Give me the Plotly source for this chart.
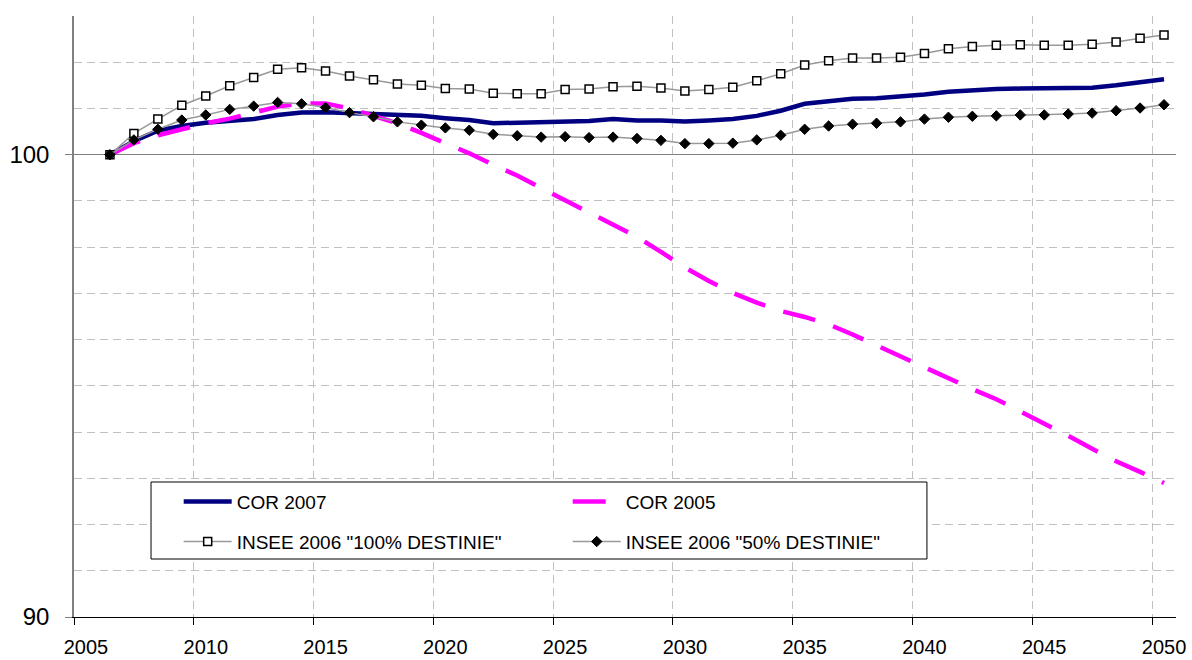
import plotly.graph_objects as go

years = list(range(2006, 2051))

cor_2007 = [100.00, 100.29, 100.52, 100.62, 100.69, 100.74, 100.77, 100.86, 100.91, 100.92,
            100.90, 100.88, 100.86, 100.84, 100.79, 100.75, 100.68, 100.69, 100.70, 100.73,
            100.73, 100.77, 100.74, 100.74, 100.72, 100.74, 100.77, 100.84, 100.95, 101.10,
            101.16, 101.21, 101.22, 101.25, 101.30, 101.36, 101.40, 101.42, 101.43, 101.43,
            101.43, 101.45, 101.50, 101.56, 101.63]

cor_2005 = [100.00, 100.25, 100.42, 100.55, 100.68, 100.78, 100.92, 101.04, 101.11, 101.11,
            101.00, 100.84, 100.68, 100.47, 100.25, 100.03, 99.78, 99.55, 99.28, 99.02,
            98.76, 98.50, 98.22, 97.90, 97.56, 97.27, 97.01, 96.80, 96.62, 96.49,
            96.33, 96.11, 95.87, 95.65, 95.39, 95.17, 94.93, 94.71, 94.45, 94.20,
            93.92, 93.64, 93.37, 93.14, 92.90]

insee_100 = [100.00, 100.46, 100.77, 101.07, 101.27, 101.49, 101.67, 101.85, 101.88, 101.81,
             101.70, 101.62, 101.53, 101.50, 101.43, 101.42, 101.33, 101.32, 101.32, 101.41,
             101.42, 101.47, 101.48, 101.44, 101.38, 101.41, 101.46, 101.60, 101.75, 101.94,
             102.03, 102.09, 102.09, 102.11, 102.19, 102.29, 102.34, 102.37, 102.38, 102.37,
             102.37, 102.39, 102.44, 102.52, 102.59]

insee_50 = [100.00, 100.32, 100.55, 100.75, 100.86, 100.98, 101.05, 101.13, 101.10, 101.02,
            100.91, 100.82, 100.71, 100.64, 100.58, 100.53, 100.44, 100.41, 100.38, 100.39,
            100.37, 100.38, 100.35, 100.31, 100.24, 100.24, 100.25, 100.32, 100.42, 100.55,
            100.62, 100.66, 100.68, 100.71, 100.77, 100.81, 100.83, 100.84, 100.86, 100.86,
            100.88, 100.90, 100.95, 101.01, 101.08]

names = ["COR 2007", "COR 2005", 'INSEE 2006 "100% DESTINIE"', 'INSEE 2006 "50% DESTINIE"']
x_labels = list(range(2005, 2051, 5))
x_bounds = [v - 0.5 for v in x_labels]
y_labels = [90, 100]

FONT = "Arial, Liberation Sans, sans-serif"

fig = go.Figure()
fig.add_trace(go.Scatter(x=years, y=cor_2007, name=names[0], mode="lines", legend="legend",
                         line=dict(color="#000080", width=4.5)))
fig.add_trace(go.Scatter(x=years, y=cor_2005, name=names[1], mode="lines", legend="legend",
                         line=dict(color="#FF00FF", width=4.5, dash="33px,19px")))
fig.add_trace(go.Scatter(x=years, y=insee_100, name=names[2], mode="lines+markers",
                         legend="legend2",
                         line=dict(color="#999999", width=1.5),
                         marker=dict(symbol="square", size=8, color="white",
                                     line=dict(color="black", width=1.5))))
fig.add_trace(go.Scatter(x=years, y=insee_50, name=names[3], mode="lines+markers",
                         legend="legend2",
                         line=dict(color="#999999", width=1.5),
                         marker=dict(symbol="diamond", size=8, color="black",
                                     line=dict(color="black", width=1))))

leg_common = dict(orientation="h", xanchor="left", yanchor="middle",
                  bgcolor="rgba(0,0,0,0)", borderwidth=0,
                  font=dict(size=19, family=FONT, color="black"),
                  entrywidth=326, itemwidth=48)

fig.update_layout(
    width=1192, height=660,
    margin=dict(l=74, r=16, t=16, b=43),
    paper_bgcolor="white", plot_bgcolor="white",
    font=dict(family=FONT, color="black"),
    showlegend=True,
    legend=dict(x=0.095, y=0.1918, **leg_common),
    legend2=dict(x=0.095, y=0.1253, **leg_common),
    shapes=[dict(type="rect", xref="paper", yref="paper", layer="above",
                 x0=0.0699, x1=0.774, y0=0.0965, y1=0.2246,
                 fillcolor="white", line=dict(color="black", width=1))],
    xaxis=dict(range=[2004.5, 2050.5], tickvals=x_labels, ticktext=[str(v) for v in x_labels],
               ticks="", showgrid=False, zeroline=False, automargin=False,
               showline=True, linecolor="black", linewidth=1.2,
               tickfont=dict(size=20, family=FONT, color="black"),
               ticklabelstandoff=12,
               minor=dict(tickvals=x_bounds, ticks="outside", ticklen=7, tickcolor="black",
                          tickwidth=1, showgrid=True, gridcolor="#c0c0c0", gridwidth=1,
                          griddash="8px,5px")),
    yaxis=dict(range=[90, 103], tickvals=y_labels, ticks="outside", ticklen=7,
               tickcolor="#808080", tickwidth=1, automargin=False,
               showgrid=True, gridcolor="#808080", gridwidth=1, zeroline=False,
               showline=True, linecolor="#808080", linewidth=1.5,
               tickfont=dict(size=24, family=FONT, color="black"),
               ticklabelstandoff=11,
               minor=dict(dtick=1, ticks="", showgrid=True, gridcolor="#c0c0c0",
                          gridwidth=1, griddash="8px,5px")),
)

fig.write_html("out.html", config={"displayModeBar": False},
               post_script="document.body.style.margin='0';document.body.style.overflow='hidden';")
